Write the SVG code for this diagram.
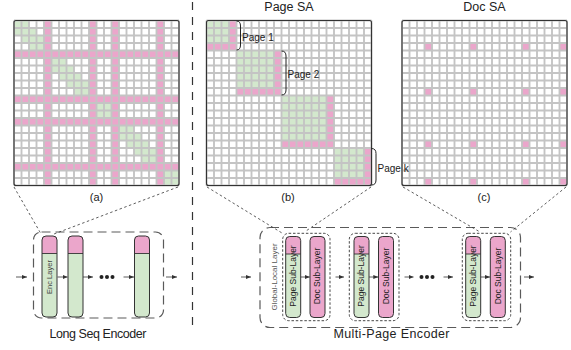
<svg xmlns="http://www.w3.org/2000/svg" xmlns:xlink="http://www.w3.org/1999/xlink" width="571" height="350" viewBox="0 0 571 350">
<style>
text{font-family:"Liberation Sans",Arial,sans-serif;fill:#222}
.pk{fill:#eba6cb}
.gn{fill:#d3e8cd}
.frame{fill:none;stroke:#333;stroke-width:1.1}
.gl{fill:none;stroke:#c4c4c4;stroke-width:0.25}
.zoomln{fill:none;stroke:#333;stroke-width:0.8;stroke-dasharray:2.5 2.5}
.outer{fill:none;stroke:#5a5a5a;stroke-width:1.2;stroke-dasharray:9 5}
.grp{fill:none;stroke:#333;stroke-width:0.9;stroke-dasharray:2.5 1.8}
.bar{fill:none;stroke:#333;stroke-width:1}
.arr{fill:none;stroke:#333;stroke-width:0.8;marker-end:url(#ah)}
.brk{fill:none;stroke:#222;stroke-width:1}
.title{font-size:12.5px;text-anchor:middle}
.cap{font-size:11px;text-anchor:middle}
.plab{font-size:10px}
.rot{font-size:8.5px;text-anchor:middle}
.dot{fill:#222}
</style>
<defs>
<marker id="ah" markerWidth="6" markerHeight="6" refX="5" refY="3" orient="auto" markerUnits="userSpaceOnUse"><path d="M0,0.9 L5,3 L0,5.1Z" fill="#333"/></marker>
<path id="grid" class="gl" d="M0 0V22M1 0V22M2 0V22M3 0V22M4 0V22M5 0V22M6 0V22M7 0V22M8 0V22M9 0V22M10 0V22M11 0V22M12 0V22M13 0V22M14 0V22M15 0V22M16 0V22M17 0V22M18 0V22M19 0V22M20 0V22M21 0V22M22 0V22M0 0H22M0 1H22M0 2H22M0 3H22M0 4H22M0 5H22M0 6H22M0 7H22M0 8H22M0 9H22M0 10H22M0 11H22M0 12H22M0 13H22M0 14H22M0 15H22M0 16H22M0 17H22M0 18H22M0 19H22M0 20H22M0 21H22M0 22H22"/>
<g id="pagebar">
<rect x="0" y="0" width="15" height="81" rx="4" class="gn"/>
<path d="M0,17.5 V4 Q0,0 4,0 H11 Q15,0 15,4 V17.5 Z" class="pk"/>
<line x1="0" y1="17.5" x2="15" y2="17.5" stroke="#333" stroke-width="0.9"/>
<rect x="0" y="0" width="15" height="81" rx="4" class="bar"/>
</g>
<g id="docbar">
<rect x="0" y="0" width="15" height="81" rx="4" class="pk"/>
<rect x="0" y="0" width="15" height="81" rx="4" class="bar"/>
</g>
</defs>

<rect width="571" height="350" fill="#fff"/>

<!-- Grid (a) -->
<g id="grid-a">
<g transform="translate(14,20.5) scale(7.5)">
<rect width="22" height="22" fill="#fff"/>
<g class="gn">
<rect x="0" y="0" width="2" height="1"/><rect x="0" y="1" width="3" height="1"/><rect x="1" y="2" width="3" height="1"/><rect x="2" y="3" width="2" height="1"/>
<rect x="5" y="5" width="2" height="1"/><rect x="5" y="6" width="3" height="1"/><rect x="6" y="7" width="3" height="1"/><rect x="7" y="8" width="3" height="1"/><rect x="8" y="9" width="2" height="1"/>
<rect x="11" y="11" width="2" height="2"/>
<rect x="14" y="14" width="2" height="1"/><rect x="14" y="15" width="3" height="1"/><rect x="15" y="16" width="3" height="1"/><rect x="16" y="17" width="3" height="1"/><rect x="17" y="18" width="2" height="1"/>
<rect x="20" y="20" width="2" height="2"/>
</g>
<g class="pk">
<rect x="0" y="4" width="22" height="1"/><rect x="0" y="10" width="22" height="1"/><rect x="0" y="13" width="22" height="1"/><rect x="0" y="19" width="22" height="1"/>
<rect x="4" y="0" width="1" height="22"/><rect x="10" y="0" width="1" height="22"/><rect x="13" y="0" width="1" height="22"/><rect x="19" y="0" width="1" height="22"/>
</g>
<use xlink:href="#grid"/>
</g>
<rect x="14" y="20.5" width="165" height="165" rx="2" class="frame"/>
<text class="cap" x="96.5" y="201">(a)</text>
</g>

<!-- Grid (b) -->
<g id="grid-b">
<text class="title" x="289" y="10.5">Page SA</text>
<g transform="translate(206.5,20.5) scale(7.5)">
<rect width="22" height="22" fill="#fff"/>
<g class="gn">
<rect x="0" y="0" width="3" height="3"/>
<rect x="4" y="4" width="5" height="5"/>
<rect x="10" y="10" width="6" height="6"/>
<rect x="17" y="17" width="4" height="4"/>
</g>
<g class="pk">
<rect x="3" y="0" width="1" height="4"/><rect x="0" y="3" width="3" height="1"/>
<rect x="9" y="4" width="1" height="6"/><rect x="4" y="9" width="5" height="1"/>
<rect x="16" y="10" width="1" height="7"/><rect x="10" y="16" width="6" height="1"/>
<rect x="21" y="17" width="1" height="5"/><rect x="17" y="21" width="4" height="1"/>
</g>
<use xlink:href="#grid"/>
</g>
<rect x="206.5" y="20.5" width="165" height="165" rx="2" class="frame"/>
<text class="cap" x="288" y="201">(b)</text>
</g>

<!-- Grid (c) -->
<g id="grid-c">
<text class="title" x="484.5" y="10.5">Doc SA</text>
<g transform="translate(402,20.5) scale(7.5)">
<rect width="22" height="22" fill="#fff"/>
<g class="pk">
<rect x="3" y="3" width="1" height="1"/><rect x="9" y="3" width="1" height="1"/><rect x="16" y="3" width="1" height="1"/><rect x="21" y="3" width="1" height="1"/>
<rect x="3" y="9" width="1" height="1"/><rect x="9" y="9" width="1" height="1"/><rect x="16" y="9" width="1" height="1"/><rect x="21" y="9" width="1" height="1"/>
<rect x="3" y="16" width="1" height="1"/><rect x="9" y="16" width="1" height="1"/><rect x="16" y="16" width="1" height="1"/><rect x="21" y="16" width="1" height="1"/>
<rect x="3" y="21" width="1" height="1"/><rect x="9" y="21" width="1" height="1"/><rect x="16" y="21" width="1" height="1"/><rect x="21" y="21" width="1" height="1"/>
</g>
<use xlink:href="#grid"/>
</g>
<rect x="402" y="20.5" width="165" height="165" rx="2" class="frame"/>
<text class="cap" x="484" y="201">(c)</text>
</g>

<g id="page-labels">
<path class="brk" d="M236.5,21 Q240.5,21 240.5,26 V45 Q240.5,50 236.5,50"/>
<text class="plab" x="242" y="40.5">Page 1</text>
<path class="brk" d="M281.5,51 Q286,51 286,56 V90 Q286,95 281.5,95"/>
<text class="plab" x="287.5" y="78">Page 2</text>
<path class="brk" d="M371.5,148.5 Q376,148.5 376,153.5 V180 Q376,185 371.5,185"/>
<text class="plab" x="377.5" y="171.5">Page k</text>
</g>

<!-- divider -->
<line x1="192.5" y1="2" x2="192.5" y2="326" stroke="#333" stroke-width="1.2" stroke-dasharray="8 7"/>

<!-- Long Seq Encoder -->
<g id="long-seq-encoder">
<rect x="33.5" y="232" width="130" height="86" rx="8" class="outer"/>
<text x="98" y="338" font-size="12.5" text-anchor="middle" textLength="97">Long Seq Encoder</text>
</g>
<g id="enc-layer-1">
<use xlink:href="#pagebar" x="42" y="236"/>
<text class="rot" style="font-size:7.5px;fill:#444" transform="rotate(-90 49.5 277)" x="49.5" y="277" dy="0.35em">Enc Layer</text>
</g>
<g id="enc-layer-2"><use xlink:href="#pagebar" x="68" y="236"/></g>
<g id="enc-layer-3"><use xlink:href="#pagebar" x="134.5" y="236"/></g>
<g id="enc-dots">
<circle class="dot" cx="101.5" cy="277" r="2"/><circle class="dot" cx="107" cy="277" r="2"/><circle class="dot" cx="112.5" cy="277" r="2"/>
</g>

<!-- Multi-Page Encoder -->
<g id="multi-page-encoder">
<rect x="260" y="227.5" width="260.5" height="100" rx="10" class="outer"/>
<text x="391.5" y="338" font-size="12.5" text-anchor="middle" textLength="116">Multi-Page Encoder</text>
<text style="font-size:8px;fill:#555" text-anchor="middle" transform="rotate(-90 274.5 277)" x="274.5" y="277" dy="0.35em">Global-Local Layer</text>
</g>
<g id="gl-layer-1">
<rect x="282.7" y="233.3" width="47.3" height="87.4" rx="6" class="grp"/>
<use xlink:href="#pagebar" x="285.7" y="236.5"/>
<text class="rot" transform="rotate(-90 293.2 276)" x="293.2" y="276" dy="0.35em">Page Sub-Layer</text>
<use xlink:href="#docbar" x="310" y="236.5"/>
<text class="rot" transform="rotate(-90 317.5 276)" x="317.5" y="276" dy="0.35em">Doc Sub-Layer</text>
</g>
<g id="gl-layer-2">
<rect x="349.3" y="233.3" width="49.7" height="87.4" rx="6" class="grp"/>
<use xlink:href="#pagebar" x="354" y="236.5"/>
<text class="rot" transform="rotate(-90 361.5 276)" x="361.5" y="276" dy="0.35em">Page Sub-Layer</text>
<use xlink:href="#docbar" x="378.5" y="236.5"/>
<text class="rot" transform="rotate(-90 386 276)" x="386" y="276" dy="0.35em">Doc Sub-Layer</text>
</g>
<g id="ml-dots">
<circle class="dot" cx="421.5" cy="277" r="2"/><circle class="dot" cx="427" cy="277" r="2"/><circle class="dot" cx="432.5" cy="277" r="2"/>
</g>
<g id="gl-layer-3">
<rect x="462.3" y="233.3" width="48.4" height="87.4" rx="6" class="grp"/>
<use xlink:href="#pagebar" x="465.7" y="236.5"/>
<text class="rot" transform="rotate(-90 473.2 276)" x="473.2" y="276" dy="0.35em">Page Sub-Layer</text>
<use xlink:href="#docbar" x="490.3" y="236.5"/>
<text class="rot" transform="rotate(-90 497.8 276)" x="497.8" y="276" dy="0.35em">Doc Sub-Layer</text>
</g>

<!-- connectors -->
<g id="connectors">
<line class="zoomln" x1="14" y1="187" x2="40.5" y2="233"/>
<line class="zoomln" x1="178" y1="187" x2="54" y2="234"/>
<line class="zoomln" x1="207" y1="187" x2="282" y2="233"/>
<line class="zoomln" x1="371" y1="187" x2="306" y2="231"/>
<line class="zoomln" x1="403" y1="187" x2="480" y2="232"/>
<line class="zoomln" x1="566" y1="187" x2="510.5" y2="232"/>
<line class="arr" x1="16" y1="277" x2="27" y2="277"/>
<line class="arr" x1="57.5" y1="277" x2="67.5" y2="277"/>
<line class="arr" x1="83" y1="277" x2="93" y2="277"/>
<line class="arr" x1="123.5" y1="277" x2="134" y2="277"/>
<line class="arr" x1="166" y1="277" x2="177" y2="277"/>
<line class="arr" x1="241" y1="277" x2="251" y2="277"/>
<line class="arr" x1="300.7" y1="277" x2="309.8" y2="277"/>
<line class="arr" x1="335.5" y1="277" x2="344" y2="277"/>
<line class="arr" x1="369" y1="277" x2="378.3" y2="277"/>
<line class="arr" x1="404.5" y1="277" x2="413.5" y2="277"/>
<line class="arr" x1="443.5" y1="277" x2="453" y2="277"/>
<line class="arr" x1="480.7" y1="277" x2="490" y2="277"/>
<line class="arr" x1="524" y1="277" x2="534" y2="277"/>
</g>
</svg>
